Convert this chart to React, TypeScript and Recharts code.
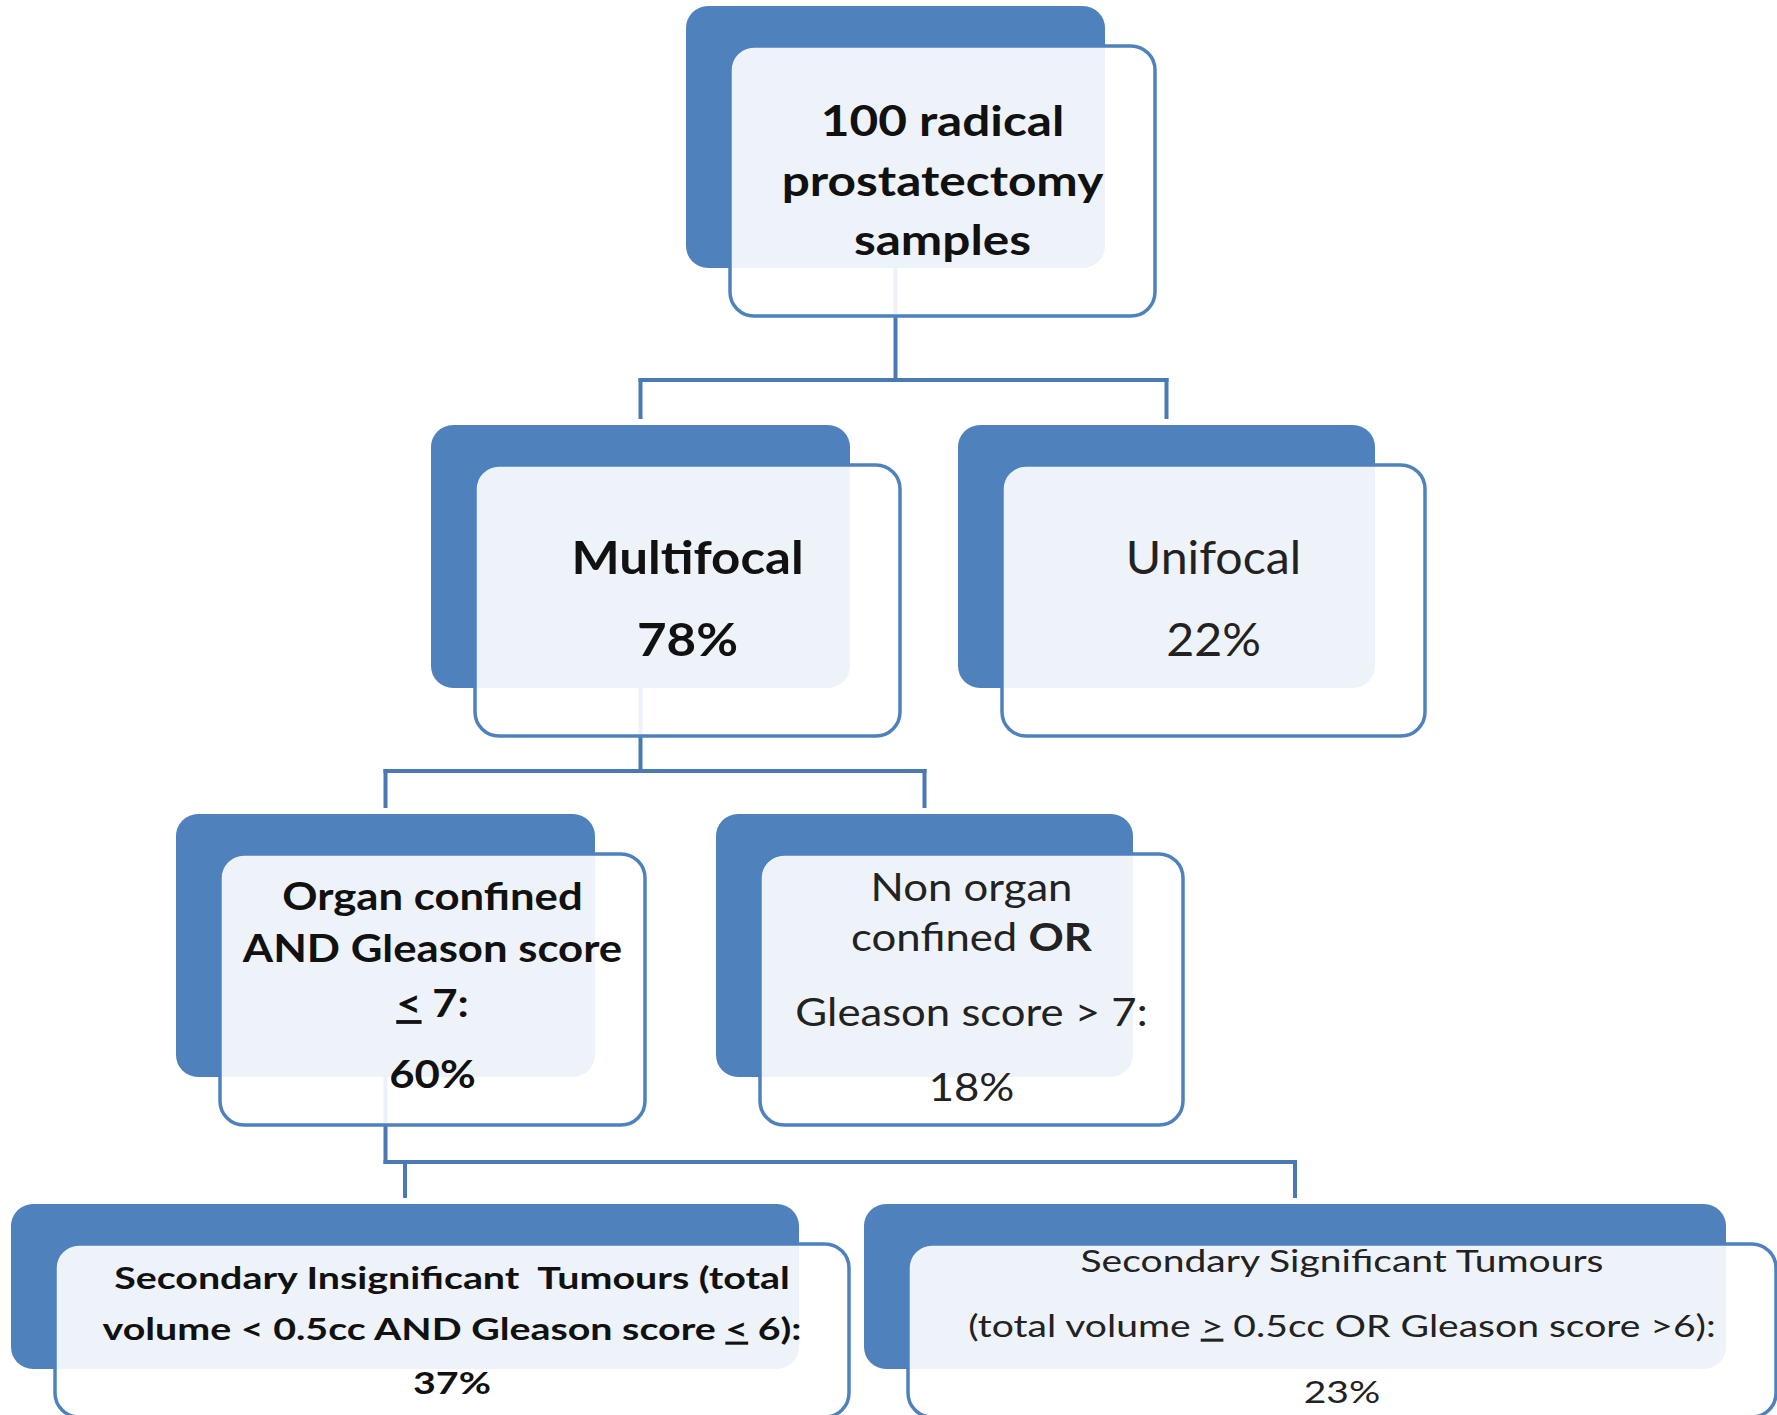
import React from 'react';
import { ScatterChart, Scatter, XAxis, YAxis } from 'recharts';

document.body.style.margin = '0';

const W = 1777;
const H = 1415;
const BLUE = '#4f81bd';
const LINE = '#4a79b3';

// node text, **bold** and _underlined_ markup
const nodeLines = [
  ['100 radical', 'prostatectomy', 'samples'],
  ['Multifocal'],
  ['Unifocal'],
  ['Organ confined', 'AND Gleason score', '_<_ 7:'],
  ['Non organ', 'confined **OR**', 'Gleason score > 7:'],
  ['Secondary Insignificant  Tumours (total', 'volume < 0.5cc AND Gleason score _<_ 6):'],
  ['Secondary Significant Tumours', '(total volume _>_ 0.5cc OR Gleason score >6):'],
];
const percents = [null, 78, 22, 60, 18, 37, 23];
const parents = [-1, 0, 0, 1, 1, 3, 3];

// box geometry (back box top-left + size), text line offsets from front box top, text stretch
const layout = [
  { x: 686, y: 6, w: 419, h: 262, fs: 42, sx: 1.18, bold: true, ly: [75, 135, 194], bus: 380 },
  { x: 431, y: 425, w: 419, h: 263, fs: 46, sx: 1.11, bold: true, ly: [93, 175], bus: 771 },
  { x: 958, y: 425, w: 417, h: 263, fs: 46, sx: 1.05, bold: false, ly: [93, 175] },
  { x: 176, y: 814, w: 419, h: 263, fs: 38, sx: 1.15, bold: true, ly: [43, 95, 150, 221], bus: 1162 },
  { x: 716, y: 814, w: 417, h: 263, fs: 38, sx: 1.15, bold: false, ly: [34, 84, 159, 234] },
  { x: 11, y: 1204, w: 788, h: 165, fs: 31, sx: 1.27, bold: true, ly: [34, 85, 139] },
  { x: 864, y: 1204, w: 862, h: 165, fs: 31, sx: 1.26, bold: false, ly: [17, 82, 148] },
];
const DX = 44;
const DY = 40;

const nodes = layout.map((b, i) => ({ i, x: b.x + b.w / 2, y: b.y + b.h / 2 }));

// connector segments built from the tree
const segments: { x: number; y: number }[][] = [];
layout.forEach((b, p) => {
  const kids = parents.map((q, k) => (q === p ? k : -1)).filter((k) => k >= 0);
  if (!kids.length) return;
  const px = nodes[p].x;
  const busY = b.bus as number;
  segments.push([{ x: px, y: nodes[p].y }, { x: px, y: busY }]);
  const xs = [px, ...kids.map((k) => nodes[k].x)];
  segments.push([{ x: Math.min(...xs), y: busY }, { x: Math.max(...xs), y: busY }]);
  kids.forEach((k) => {
    segments.push([{ x: nodes[k].x, y: busY }, { x: nodes[k].x, y: layout[k].y - 8 }]);
  });
});

function renderLine(line: string, bold: boolean) {
  const parts = line.split(/(\*\*[^*]+\*\*|_[^_]+_)/).filter((s) => s.length);
  return parts.map((s, j) => {
    if (s.startsWith('**')) return <tspan key={j} fontWeight={700}>{s.slice(2, -2)}</tspan>;
    if (s.startsWith('_'))
      return (
        <tspan key={j} style={{ textDecoration: 'underline' }} fontWeight={bold ? 700 : 400}>
          {s.slice(1, -1)}
        </tspan>
      );
    return <tspan key={j}>{s}</tspan>;
  });
}

const NodeShape = (props: any) => {
  const { cx, cy, payload } = props;
  const i = payload.i;
  const b = layout[i];
  const bx = cx - b.w / 2;
  const by = cy - b.h / 2;
  const fx = bx + DX;
  const fy = by + DY;
  const fw = b.w + 6;
  const fh = b.h + 8;
  const lines = [...nodeLines[i]];
  if (percents[i] != null) lines.push(`${percents[i]}%`);
  return (
    <g>
      <rect x={bx} y={by} width={b.w} height={b.h} rx={22} fill={BLUE} />
      <rect x={fx} y={fy} width={fw} height={fh} rx={24} fill="#fff" fillOpacity={0.9} stroke={BLUE} strokeWidth={3.5} />
      {lines.map((ln, li) => (
        <text
          key={li}
          transform={`translate(${fx + fw / 2},${fy + b.ly[li] + b.fs * 0.35}) scale(${b.sx},1)`}
          x={0}
          y={0}
          textAnchor="middle"
          fontFamily="Lato, sans-serif"
          fontSize={b.fs}
          fontWeight={b.bold ? 700 : 400}
          fill={b.bold ? '#111' : '#222'}
          style={{ whiteSpace: 'pre' }}
        >
          {renderLine(ln, b.bold)}
        </text>
      ))}
    </g>
  );
};

export default function App() {
  return (
    <div style={{ width: W, height: H, background: '#fff' }}>
      <ScatterChart width={W} height={H} margin={{ top: 0, right: 0, bottom: 0, left: 0 }}>
        <XAxis type="number" dataKey="x" domain={[0, W]} allowDataOverflow hide />
        <YAxis type="number" dataKey="y" domain={[0, H]} allowDataOverflow reversed hide />
        {segments.map((seg, k) => (
          <Scatter
            key={`c${k}`}
            data={seg}
            line={{ stroke: LINE, strokeWidth: 4, strokeLinecap: 'square' }}
            shape={() => <g />}
            isAnimationActive={false}
          />
        ))}
        <Scatter data={nodes} shape={NodeShape} isAnimationActive={false} />
      </ScatterChart>
    </div>
  );
}
